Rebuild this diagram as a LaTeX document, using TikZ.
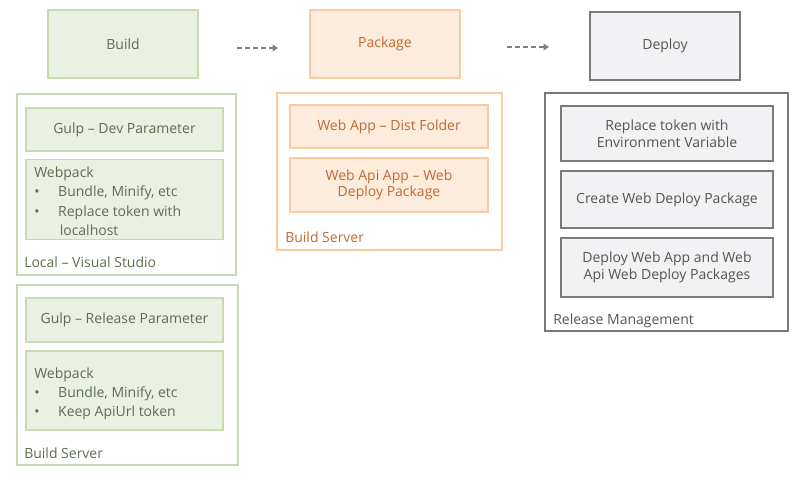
\documentclass[tikz,border=0pt]{standalone}
\usepackage{fontspec}
\setmainfont{Open Sans}
\usetikzlibrary{arrows.meta}
\definecolor{grnline}{HTML}{C6DBB2}
\definecolor{grnfill}{HTML}{EAF1E3}
\definecolor{grntext}{HTML}{5E6E50}
\definecolor{orgline}{HTML}{F9CBA0}
\definecolor{orgfill}{HTML}{FDEBDC}
\definecolor{orgtext}{HTML}{C06A35}
\definecolor{gryline}{HTML}{7A7A7A}
\definecolor{gryfill}{HTML}{F2F1F3}
\definecolor{grytext}{HTML}{555555}
\begin{document}
\begin{tikzpicture}[x=0.75pt,y=-0.75pt,font=\fontsize{10.5}{12.5}\selectfont]
  \tikzstyle{box}=[draw,line width=1.2pt,inner sep=0,align=center]
  \tikzstyle{green box}=[box,draw=grnline,fill=grnfill,text=grntext]
  \tikzstyle{orange box}=[box,draw=orgline,fill=orgfill,text=orgtext]
  \tikzstyle{gray box}=[box,draw=gryline,fill=gryfill,text=grytext]
  \tikzstyle{frame}=[draw,line width=1.2pt]
  \tikzstyle{caption}=[anchor=base west,inner sep=0]
  \tikzstyle{flow}=[draw=gray,line width=1.5pt,dashed,dash pattern=on 4pt off 2pt,-{Triangle[length=4pt,width=5pt]}]

  \useasboundingbox (0,0) rectangle (800,480);

  % stage headers
  \node(build)[green box,minimum width=112.5pt,minimum height=51pt] at (123,44){Build};
  \node(package)[orange box,minimum width=112.5pt,minimum height=51pt] at (385,44){Package};
  \node(deploy)[gray box,minimum width=112.5pt,minimum height=51pt] at (665,46){Deploy};
  \coordinate(a1) at (237,48); \coordinate(a2) at (278,48);
  \coordinate(a3) at (507,47); \coordinate(a4) at (549,47);
  \draw[flow] (a1) -- (a2);
  \draw[flow] (a3) -- (a4);

  % build
  \draw[frame,draw=grnline] (17,94) rectangle (236,275);
  \node(gulpdev)[green box,minimum width=147.75pt,minimum height=32pt] at (124.5,129.5){Gulp -- Dev Parameter};
  \node(webdev)[green box,minimum width=147.75pt,minimum height=60pt] at (124.5,199.5){};
  \node[caption,text=grntext,align=left] at (34,177){Webpack};
  \node[caption,text=grntext] at (34,196){\textbullet\hspace{14pt}Bundle, Minify, etc};
  \node[caption,text=grntext] at (34,216){\textbullet\hspace{14pt}Replace token with};
  \node[caption,text=grntext] at (59.5,235){localhost};
  \node(localcap)[caption,text=grntext] at (24,267){Local -- Visual Studio};

  \draw[frame,draw=grnline] (17,285) rectangle (238,465);
  \node(gulprel)[green box,minimum width=147.75pt,minimum height=33pt] at (124.5,320){Gulp -- Release Parameter};
  \node(webrel)[green box,minimum width=147.75pt,minimum height=59pt] at (124.5,390.5){};
  \node[caption,text=grntext] at (34,378){Webpack};
  \node[caption,text=grntext] at (34,397){\textbullet\hspace{14pt}Bundle, Minify, etc};
  \node[caption,text=grntext] at (34,416){\textbullet\hspace{14pt}Keep ApiUrl token};
  \node(buildcap)[caption,text=grntext] at (24,458){Build Server};

  % package
  \draw[frame,draw=orgline] (277,93) rectangle (502,250);
  \node(webapp)[orange box,minimum width=148.5pt,minimum height=32pt] at (389,126.5){Web App -- Dist Folder};
  \node(webapi)[orange box,minimum width=148.5pt,minimum height=40.5pt] at (389,185){Web Api App -- Web\\Deploy Package};
  \node(packcap)[caption,text=orgtext] at (285,242){Build Server};

  % deploy
  \draw[frame,draw=gryline] (545,93) rectangle (788,331);
  \node(token)[gray box,minimum width=159pt,minimum height=41pt] at (667,133.5){Replace token with\\Environment Variable};
  \node(create)[gray box,minimum width=159pt,minimum height=43pt] at (667,199.5){Create Web Deploy Package};
  \node(deployweb)[gray box,minimum width=159pt,minimum height=44pt] at (667,267.5){Deploy Web App and Web\\Api Web Deploy Packages};
  \node(relcap)[caption,text=grytext] at (553,324){Release Management};
\end{tikzpicture}
\end{document}
